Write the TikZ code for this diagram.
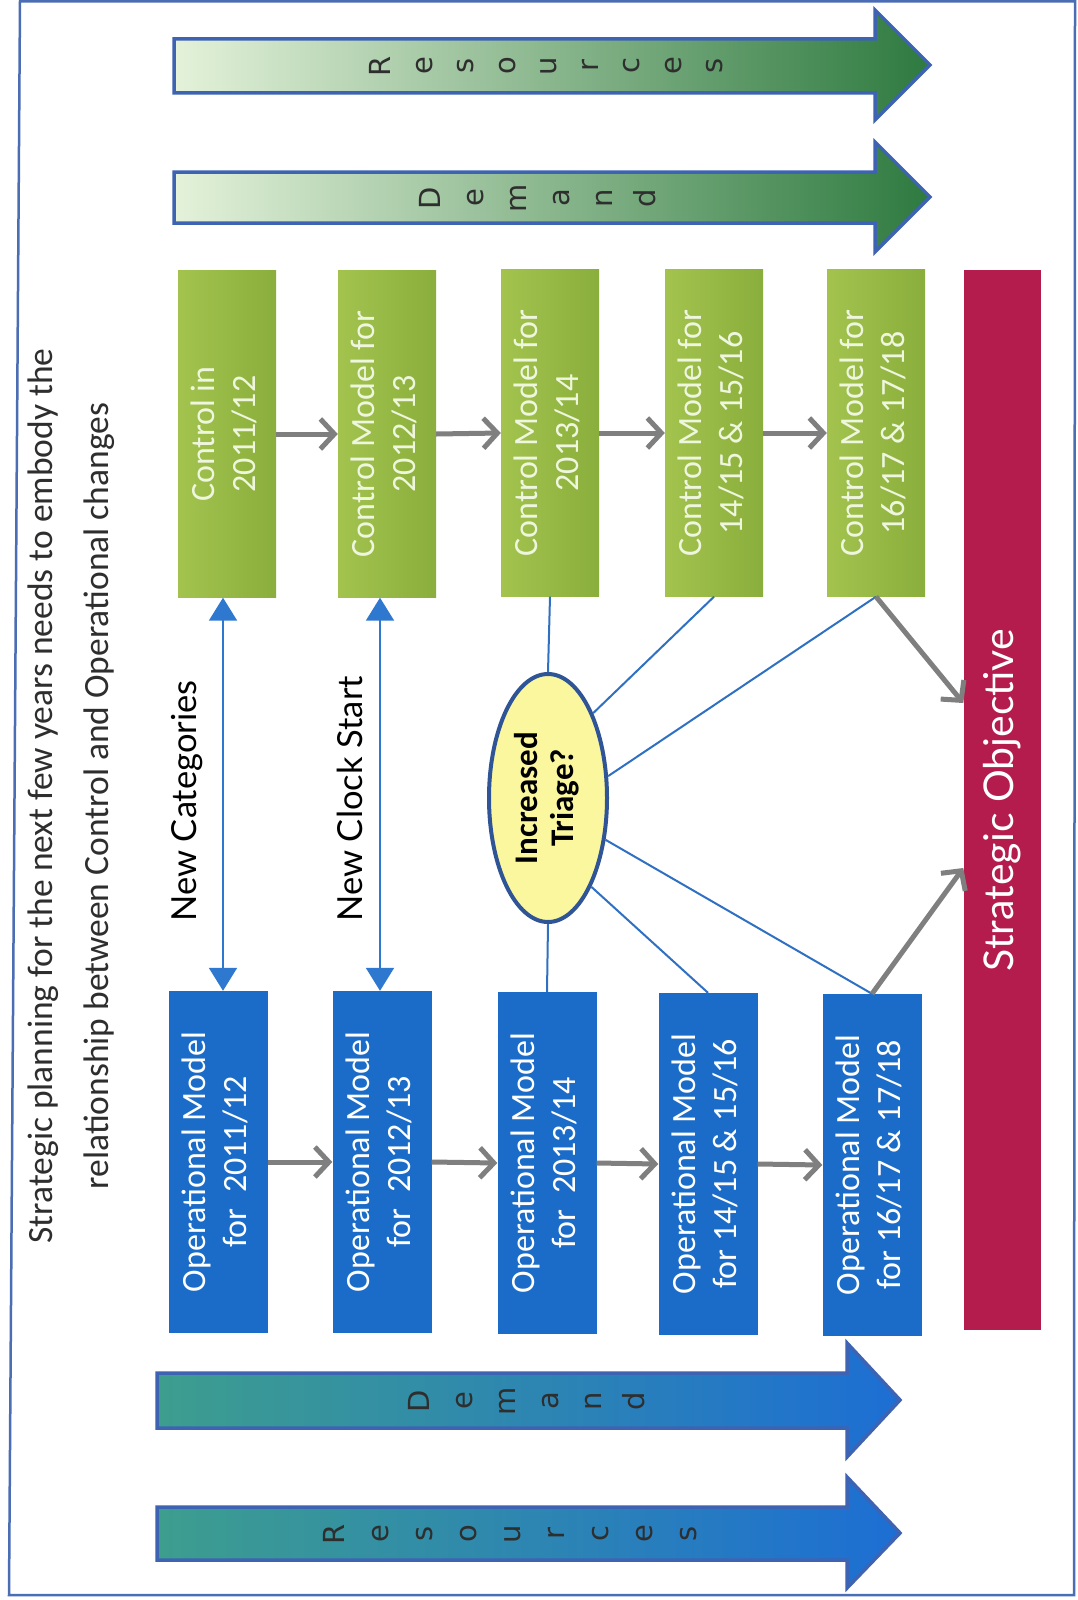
\documentclass[tikz,border=0pt]{standalone}
\usepackage{fontspec}
\setmainfont{Carlito}
\newfontfamily\humfont{Lato}
\newfontfamily\letterfont{DejaVu Sans}
\usetikzlibrary{arrows.meta,shapes.geometric,calc}

\definecolor{ctrlA}{HTML}{A3C34E}
\definecolor{ctrlB}{HTML}{8AAE3C}
\definecolor{ctrltext}{HTML}{EFF6DE}
\definecolor{opblue}{HTML}{1B6CC8}
\definecolor{objred}{HTML}{B31C4C}
\definecolor{frameblue}{HTML}{4A6DB3}
\definecolor{linkblue}{HTML}{3070C2}
\definecolor{dblblue}{HTML}{2E78D0}
\definecolor{greyarrow}{HTML}{7F7F7F}
\definecolor{paleyellow}{HTML}{FBF79E}
\definecolor{ellblue}{HTML}{2F5597}
\definecolor{mint}{HTML}{E4F2DA}
\definecolor{midgreen}{HTML}{A6CE96}
\definecolor{forest}{HTML}{2E7A40}
\definecolor{tealish}{HTML}{3D9E8E}
\definecolor{midblue}{HTML}{2575C8}
\definecolor{deepblue}{HTML}{1D6ED4}
\definecolor{arrowrim}{HTML}{3D63B2}
\definecolor{inkgrey}{HTML}{2E2E2E}

\begin{document}
\begin{tikzpicture}[x=1pt,y=-1pt,
  ctrlbox/.style={draw=none,left color=ctrlA,right color=ctrlB,
    minimum width=98pt,minimum height=327pt,inner sep=0pt,text=ctrltext,
    font=\fontsize{34}{41}\selectfont},
  opbox/.style={draw=none,fill=opblue,
    minimum width=99pt,minimum height=342pt,inner sep=0pt,text=white,
    font=\fontsize{34}{41}\selectfont},
  flow/.style={draw=greyarrow,line width=5pt,
    -{Straight Barb[length=14pt,width=30pt]}},
  twoway/.style={draw=dblblue,line width=2pt,
    {Triangle[length=23pt,width=28pt]}-{Triangle[length=23pt,width=28pt]}},
  spoke/.style={draw=linkblue,line width=2pt},
  arrowletter/.style={inner sep=0pt,text=inkgrey,
    font=\letterfont\fontsize{29}{34}\selectfont},
  bigarrow/.style={draw=arrowrim,line width=3.5pt,line join=miter},
  heading/.style={inner sep=0pt,text=inkgrey,font=\fontsize{35.5}{42}\selectfont},
  sidelabel/.style={inner sep=0pt,anchor=south,text=black,
    font=\humfont\fontsize{34.5}{40}\selectfont}
]
\useasboundingbox (0,0) rectangle (1077,1600);
\fill[white] (0,0) rectangle (1077,1600);

% outer frame
\draw[frameblue,line width=2.5pt] (20,1.5) -- (1075,1.5) -- (1074,1595) -- (9,1595) -- cycle;

% heading
\node[heading] (head1) at (43,796)
  {\rotatebox{90}{Strategic planning for the next few years needs to embody the}};
\node[heading] (head2) at (99,796)
  {\rotatebox{90}{relationship between Control and Operational changes}};

% resource and demand arrows, control side
\path[bigarrow,left color=mint,middle color=midgreen,right color=forest]
  (174,39) -- (875,39) -- (875,10) -- (930,65) -- (875,120) -- (875,93) -- (174,93) -- cycle;
\path[bigarrow,left color=mint,middle color=midgreen,right color=forest]
  (174,172) -- (875,172) -- (875,142) -- (930,197) -- (875,252) -- (875,223) -- (174,223) -- cycle;
\foreach \ch [count=\i] in {R,e,s,o,u,r,c,e,s}
  \node[arrowletter] (rtop\i) at ({384+41.5*(\i-1)},66) {\rotatebox{90}{\strut\ch}};
\foreach \ch [count=\i] in {D,e,m,a,n,d}
  \node[arrowletter] (dtop\i) at ({434+43*(\i-1)},198) {\rotatebox{90}{\strut\ch}};

% resource and demand arrows, operational side
\path[bigarrow,left color=tealish,middle color=midblue,right color=deepblue]
  (157,1373) -- (847,1373) -- (847,1343) -- (900,1400) -- (847,1457) -- (847,1428) -- (157,1428) -- cycle;
\path[bigarrow,left color=tealish,middle color=midblue,right color=deepblue]
  (157,1507) -- (847,1507) -- (847,1477) -- (900,1533) -- (847,1588) -- (847,1560) -- (157,1560) -- cycle;
\foreach \ch [count=\i] in {D,e,m,a,n,d}
  \node[arrowletter] (dbot\i) at ({423+43*(\i-1)},1401) {\rotatebox{90}{\strut\ch}};
\foreach \ch [count=\i] in {R,e,s,o,u,r,c,e,s}
  \node[arrowletter] (rbot\i) at ({338+44*(\i-1)},1534) {\rotatebox{90}{\strut\ch}};

% control models
\node[ctrlbox] (g1) at (227,434) {\rotatebox{90}{\begin{tabular}{@{}c@{}}Control in\\2011/12\end{tabular}}};
\node[ctrlbox] (g2) at (387,434) {\rotatebox{90}{\begin{tabular}{@{}c@{}}Control Model for\\2012/13\end{tabular}}};
\node[ctrlbox] (g3) at (550,433) {\rotatebox{90}{\begin{tabular}{@{}c@{}}Control Model for\\2013/14\end{tabular}}};
\node[ctrlbox] (g4) at (714,433) {\rotatebox{90}{\begin{tabular}{@{}c@{}}Control Model for\\14/15 \& 15/16\end{tabular}}};
\node[ctrlbox] (g5) at (876,433) {\rotatebox{90}{\begin{tabular}{@{}c@{}}Control Model for\\16/17 \& 17/18\end{tabular}}};

% operational models
\node[opbox] (o1) at (218,1162) {\rotatebox{90}{\begin{tabular}{@{}c@{}}Operational Model\\for~~2011/12\end{tabular}}};
\node[opbox] (o2) at (382,1162) {\rotatebox{90}{\begin{tabular}{@{}c@{}}Operational Model\\for~~2012/13\end{tabular}}};
\node[opbox] (o3) at (547,1163) {\rotatebox{90}{\begin{tabular}{@{}c@{}}Operational Model\\for~~2013/14\end{tabular}}};
\node[opbox] (o4) at (708,1164) {\rotatebox{90}{\begin{tabular}{@{}c@{}}Operational Model\\for 14/15 \& 15/16\end{tabular}}};
\node[opbox] (o5) at (872,1165) {\rotatebox{90}{\begin{tabular}{@{}c@{}}Operational Model\\for 16/17 \& 17/18\end{tabular}}};

% strategic objective
\node[draw=none,fill=objred,minimum width=77pt,minimum height=1060pt,inner sep=0pt,
  text=white,font=\humfont\fontsize{41}{48}\selectfont] (obj) at (1002,800)
  {\rotatebox{90}{Strategic Objective}};

% triage question
\node[ellipse,draw=ellblue,line width=4pt,fill=paleyellow,
  minimum width=118pt,minimum height=248pt,inner sep=0pt,
  font=\bfseries\fontsize{33}{36}\selectfont] (tri) at (548,798)
  {\rotatebox{90}{\begin{tabular}{@{}c@{}}Increased\\Triage?\end{tabular}}};

% spokes from the triage question
\draw[spoke] (tri.north) -- (g3.south);
\draw[spoke] (tri.south) -- (o3.north);
\draw[spoke] (tri.62) -- (g4.south);
\draw[spoke] (tri.20) -- (g5.south);
\draw[spoke] (tri.-36) -- (o5.north);
\draw[spoke] (tri.-64) -- (o4.north);

% year-to-year progression
\foreach \a/\b in {g1/g2,g2/g3,g3/g4,g4/g5,o1/o2,o2/o3,o3/o4,o4/o5}
  \draw[flow] (\a.east) -- (\b.west);
\draw[flow] (g5.south) -- (obj.west |- 0,703);
\draw[flow] (o5.north) -- (obj.west |- 0,868);

% links between control and operational models
\draw[twoway] (g1.south -| 223,0) -- (o1.north -| 223,0);
\draw[twoway] (g2.south -| 380,0) -- (o2.north -| 380,0);
\node[sidelabel] (lblcat) at (187,922) {\rotatebox{90}{New Categories}};
\node[sidelabel] (lblclock) at (350,922) {\rotatebox{90}{New Clock Start}};
\end{tikzpicture}
\end{document}
